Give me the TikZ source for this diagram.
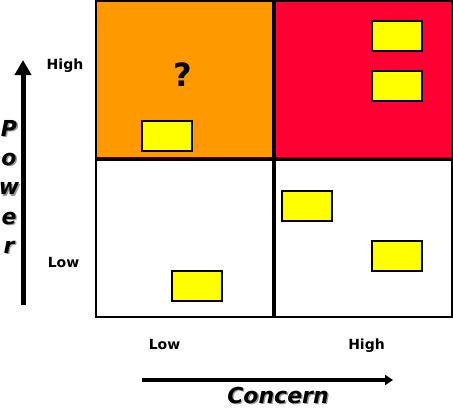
\documentclass[tikz,border=0pt]{standalone}
\usepackage{fontspec}
\setmainfont{DejaVu Sans}
\usetikzlibrary{arrows.meta,positioning}
\definecolor{quadorange}{RGB}{255,153,0}
\definecolor{quadred}{RGB}{255,0,51}
\definecolor{noteyellow}{RGB}{255,255,0}
\newcommand{\shadowed}[1]{\makebox[0pt][l]{\kern1.4pt\raisebox{-1.4pt}{\textcolor{black!40}{#1}}}#1}

\begin{document}
\begin{tikzpicture}[x=1pt, y=-1pt,
    quad/.style={draw=black, line width=2pt, inner sep=0pt, outer sep=0pt, anchor=north west, minimum width=178pt, minimum height=158pt},
    divider/.style={line width=3.3pt},
    note/.style={draw=black, line width=1.3pt, fill=noteyellow, inner sep=0pt, outer sep=0pt, anchor=north west, minimum width=50pt, minimum height=30pt},
    tick/.style={font=\bfseries\fontsize{14}{16}\selectfont, inner sep=0pt, anchor=base},
    axislabel/.style={font=\bfseries\itshape\fontsize{22}{29.3}\selectfont, inner sep=0pt, align=center},
    vaxis/.style={-{Triangle[length=15pt, width=16pt]}, line width=5pt},
    haxis/.style={-{Triangle[length=8pt, width=10pt]}, line width=3.5pt}
  ]
    \useasboundingbox (0,0) rectangle (453,408);
    % quadrants
    \node[quad, fill=quadorange] (ul) at (96,1) {};
    \node[quad, fill=quadred] (ur) at (274,1) {};
    \node[quad, fill=white] (ll) at (96,159) {};
    \node[quad, fill=white] (lr) at (274,159) {};
    \draw[divider] (ul.north east) -- (ll.south east);
    \draw[divider] (ul.south west) -- (ur.south east);
    \node[font=\bfseries\fontsize{32}{36}\selectfont, inner sep=0pt] (query) at (183,75) {?};
    % stakeholders
    \node[note] (n1) at (142,121) {};
    \node[note] (n2) at (372,21) {};
    \node[note] (n3) at (372,71) {};
    \node[note] (n4) at (282,191) {};
    \node[note] (n5) at (372,241) {};
    \node[note] (n6) at (172,271) {};
    % axes
    \coordinate (pbot) at (23,305);
    \coordinate (ptop) at (23,60);
    \coordinate (cleft) at (142,380);
    \coordinate (cright) at (393,380);
    \draw[vaxis] (pbot) -- (ptop);
    \draw[haxis] (cleft) -- (cright);
    \node[tick] (phigh) at (65,69) {High};
    \node[tick] (plow) at (63.5,267) {Low};
    \node[tick] (clow) at (164.5,349) {Low};
    \node[tick] (chigh) at (366.5,349) {High};
    \node[axislabel, anchor=north] (power) at (9,120) {\shadowed{P}\\\shadowed{o}\\\shadowed{w}\\\shadowed{e}\\\shadowed{r}};
    \node[axislabel, anchor=base] (concern) at (278,403) {\shadowed{Concern}};
  \end{tikzpicture}
\end{document}
